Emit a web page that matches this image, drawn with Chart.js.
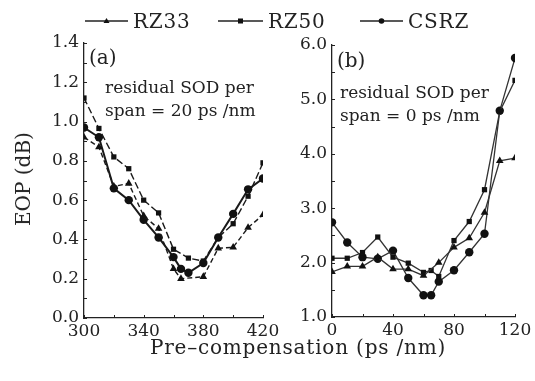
<!DOCTYPE html>
<html>
<head>
<meta charset="utf-8">
<script src="https://cdn.jsdelivr.net/npm/chart.js@4.4.1/dist/chart.umd.min.js"></script>
<style>
  body { margin: 0; background: #fff; }
  #wrap { position: relative; width: 535px; height: 381px; overflow: hidden; font-family: "DejaVu Serif", serif; color: #222; }
  canvas { position: absolute; }
  .txt { position: absolute; white-space: nowrap; line-height: 1; }
  .leg { position: absolute; top: 9px; font-size: 20px; letter-spacing: 0.8px; display: flex; align-items: center; }
  .leg svg { margin-right: 5px; }
</style>
</head>
<body>
<div id="wrap">
  <canvas id="chartA" style="left:0;top:0" width="283" height="340"></canvas>
  <canvas id="chartB" style="left:270px;top:0" width="265" height="340"></canvas>

  <div class="leg" style="left:85px"><svg width="43" height="10"><line x1="0" y1="5" x2="43" y2="5" stroke="#222" stroke-width="1.5"/><polygon points="21.5,2 24.5,7 18.5,7" fill="#111"/></svg>RZ33</div>
  <div class="leg" style="left:218px"><svg width="45" height="10"><line x1="0" y1="5" x2="45" y2="5" stroke="#222" stroke-width="1.5"/><rect x="20" y="2.5" width="5" height="5" fill="#111"/></svg>RZ50</div>
  <div class="leg" style="left:360px"><svg width="43" height="10"><line x1="0" y1="5" x2="43" y2="5" stroke="#222" stroke-width="1.5"/><circle cx="21.5" cy="5" r="2.8" fill="#111"/></svg>CSRZ</div>

  <div class="txt" style="left:89px;top:47px;font-size:20px">(a)</div>
  <div class="txt" style="left:105px;top:79px;font-size:17px">residual SOD per</div>
  <div class="txt" style="left:105px;top:102px;font-size:17px">span = 20 ps /nm</div>

  <div class="txt" style="left:337px;top:50px;font-size:20px">(b)</div>
  <div class="txt" style="left:340px;top:84px;font-size:17px">residual SOD per</div>
  <div class="txt" style="left:340px;top:107px;font-size:17px">span = 0 ps /nm</div>

  <div class="txt" style="left:298px;top:347px;font-size:20px;letter-spacing:0.8px;transform:translate(-50%,-50%)">Pre–compensation (ps /nm)</div>
  <div class="txt" style="left:23px;top:179px;font-size:20px;transform:translate(-50%,-50%) rotate(-90deg)">EOP (dB)</div>
</div>

<script>
// panel (a): residual SOD per span = 20 ps/nm
const xA_RZ33 = [300, 310, 320, 330, 340, 350, 360, 365, 380, 390, 400, 410, 420];
const yA_RZ33 = [0.92, 0.87, 0.67, 0.685, 0.52, 0.455, 0.25, 0.2, 0.21, 0.355, 0.36, 0.46, 0.525];
const xA_RZ50 = [300, 310, 320, 330, 340, 350, 360, 370, 380, 390, 400, 410, 420];
const yA_RZ50 = [1.12, 0.965, 0.82, 0.76, 0.6, 0.535, 0.35, 0.305, 0.29, 0.41, 0.48, 0.62, 0.79];
const xA_CSRZ = [300, 310, 320, 330, 340, 350, 360, 365, 370, 380, 390, 400, 410, 420];
const yA_CSRZ = [0.97, 0.92, 0.66, 0.6, 0.5, 0.41, 0.31, 0.25, 0.23, 0.28, 0.41, 0.53, 0.655, 0.71];

// panel (b): residual SOD per span = 0 ps/nm
const xB_RZ33 = [0, 10, 20, 30, 40, 50, 60, 70, 80, 90, 100, 110, 120];
const yB_RZ33 = [1.83, 1.93, 1.93, 2.1, 1.88, 1.88, 1.76, 2.0, 2.28, 2.45, 2.92, 3.87, 3.92];
const xB_RZ50 = [0, 10, 20, 30, 40, 50, 60, 65, 70, 80, 90, 100, 110, 120];
const yB_RZ50 = [2.08, 2.08, 2.185, 2.47, 2.1, 1.99, 1.82, 1.855, 1.745, 2.405, 2.755, 3.34, 4.78, 5.35];
const xB_CSRZ = [0, 10, 20, 30, 40, 50, 60, 65, 70, 80, 90, 100, 110, 120];
const yB_CSRZ = [2.74, 2.37, 2.1, 2.07, 2.22, 1.716, 1.4, 1.4, 1.65, 1.86, 2.19, 2.53, 4.79, 5.76];

const xTicksA = [300, 340, 380, 420];
const yTicksA = [0, 0.2, 0.4, 0.6, 0.8, 1.0, 1.2, 1.4];
const xTicksB = [0, 40, 80, 120];
const yTicksB = [1, 2, 3, 4, 5, 6];

const ink = "#222";
const tickFont = { family: "DejaVu Serif", size: 17 };

const pts = (xs, ys) => xs.map((x, i) => ({ x, y: ys[i] }));

function series(label, data, shape, dash, width, color) {
  return {
    label,
    data,
    borderColor: color,
    backgroundColor: "#111",
    borderWidth: width,
    borderDash: dash,
    pointStyle: shape,
    pointRadius: shape === "circle" ? 4.2 : shape === "rect" ? 3.7 : 4.4,
    pointBorderWidth: 0,
    tension: 0,
  };
}

// small inward tick marks along both axes
const innerTicks = {
  id: "innerTicks",
  afterDraw(chart, args, opts) {
    const { ctx, scales } = chart;
    const x = scales.x, y = scales.y;
    ctx.save();
    ctx.strokeStyle = ink;
    ctx.lineWidth = 1;
    ctx.beginPath();
    for (let v = x.min; v <= x.max + 1e-9; v += opts.xStep) {
      const px = Math.round(x.getPixelForValue(v)) + 0.5;
      ctx.moveTo(px, y.bottom);
      ctx.lineTo(px, y.bottom - 3);
    }
    for (let v = y.min; v <= y.max + 1e-9; v += opts.yStep) {
      const py = Math.round(y.getPixelForValue(v)) + 0.5;
      ctx.moveTo(x.left, py);
      ctx.lineTo(x.left + 3, py);
    }
    ctx.stroke();
    ctx.restore();
  },
};

function makeChart(id, datasets, xr, yr, xTicks, yTicks, yWidth, xHeight, pad, steps) {
  return new Chart(document.getElementById(id), {
    type: "line",
    data: { datasets },
    plugins: [innerTicks],
    options: {
      responsive: false,
      animation: false,
      layout: { padding: pad },
      plugins: { legend: { display: false }, tooltip: { enabled: false }, innerTicks: steps },
      scales: {
        x: {
          type: "linear",
          min: xr[0],
          max: xr[1],
          afterFit: (s) => { s.height = xHeight; },
          afterBuildTicks: (s) => { s.ticks = xTicks.map((v) => ({ value: v })); },
          grid: { display: false, drawTicks: false },
          border: { color: ink, width: 1.3 },
          ticks: { color: ink, font: tickFont, padding: 3, maxRotation: 0 },
        },
        y: {
          type: "linear",
          min: yr[0],
          max: yr[1],
          afterFit: (s) => { s.width = yWidth; },
          afterBuildTicks: (s) => { s.ticks = yTicks.map((v) => ({ value: v })); },
          grid: { display: false, drawTicks: false },
          border: { color: ink, width: 1.3 },
          ticks: { color: ink, font: tickFont, padding: 5, callback: (v) => Number(v).toFixed(1) },
        },
      },
    },
  });
}

makeChart(
  "chartA",
  [
    series("RZ33", pts(xA_RZ33, yA_RZ33), "triangle", [5, 3], 1.4, "#1a1a1a"),
    series("RZ50", pts(xA_RZ50, yA_RZ50), "rect", [7, 3], 1.4, "#1a1a1a"),
    series("CSRZ", pts(xA_CSRZ, yA_CSRZ), "circle", [], 2, "#1a1a1a"),
  ],
  [300, 420], [0, 1.4], xTicksA, yTicksA, 84, 22,
  { top: 43, right: 20, left: 0, bottom: 0 },
  { xStep: 20, yStep: 0.1 }
);

makeChart(
  "chartB",
  [
    series("RZ33", pts(xB_RZ33, yB_RZ33), "triangle", [], 1.3, "#333"),
    series("RZ50", pts(xB_RZ50, yB_RZ50), "rect", [], 1.3, "#333"),
    series("CSRZ", pts(xB_CSRZ, yB_CSRZ), "circle", [], 1.3, "#333"),
  ],
  [0, 120], [1, 6], xTicksB, yTicksB, 62, 23,
  { top: 45, right: 20, left: 0, bottom: 0 },
  { xStep: 20, yStep: 0.5 }
);
</script>
</body>
</html>
